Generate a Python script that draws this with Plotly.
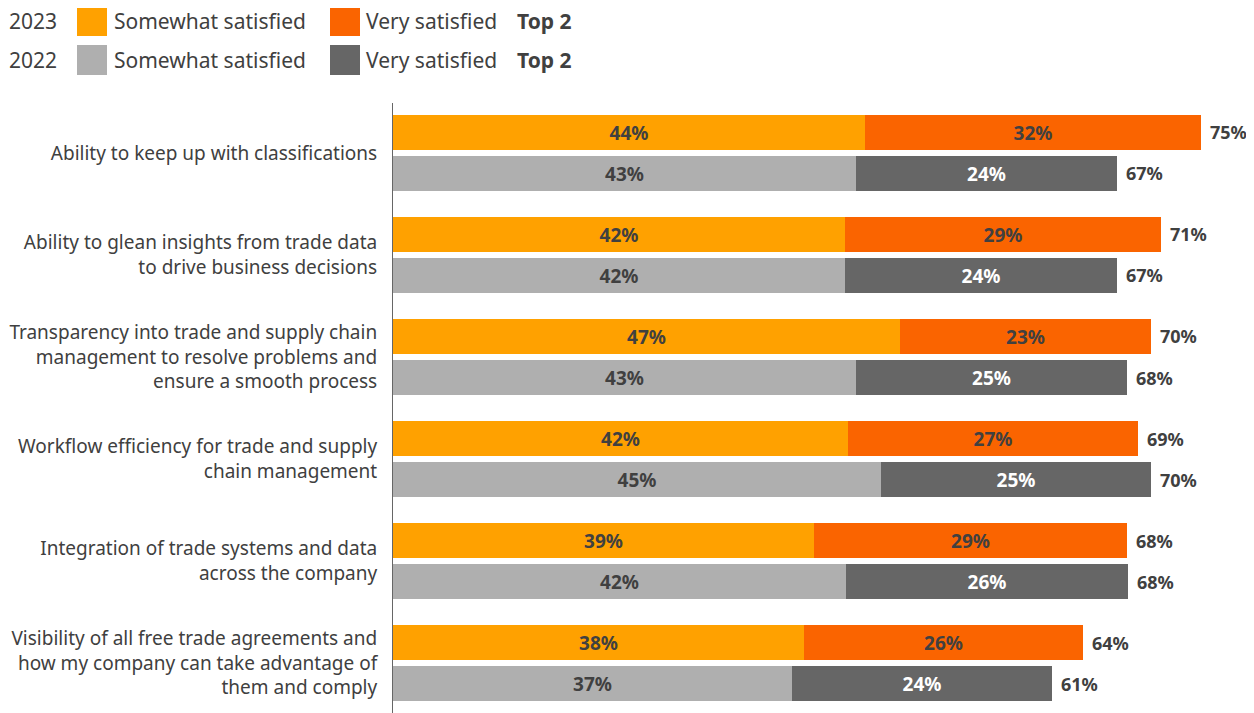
import plotly.graph_objects as go

categories = [
    "Ability to keep up with classifications",
    "Ability to glean insights from trade data<br>to drive business decisions",
    "Transparency into trade and supply chain<br>management to resolve problems and<br>ensure a smooth process",
    "Workflow efficiency for trade and supply<br>chain management",
    "Integration of trade systems and data<br>across the company",
    "Visibility of all free trade agreements and<br>how my company can take advantage of<br>them and comply",
]
# Values (labels are the published rounded figures)
some_2023 = [44.0, 42.2, 47.3, 42.4, 39.3, 38.3]
very_2023 = [31.4, 29.4, 23.4, 27.1, 29.2, 26.1]
some_2022 = [43.2, 42.2, 43.2, 45.5, 42.3, 37.2]
very_2022 = [24.3, 25.3, 25.3, 25.2, 26.3, 24.3]
some_2023_lbl = ["44%", "42%", "47%", "42%", "39%", "38%"]
very_2023_lbl = ["32%", "29%", "23%", "27%", "29%", "26%"]
some_2022_lbl = ["43%", "42%", "43%", "45%", "42%", "37%"]
very_2022_lbl = ["24%", "24%", "25%", "25%", "26%", "24%"]
top2_2023_lbl = ["75%", "71%", "70%", "69%", "68%", "64%"]
top2_2022_lbl = ["67%", "67%", "68%", "70%", "68%", "61%"]

C_SOME_23 = "#FFA100"
C_VERY_23 = "#FA6400"
C_SOME_22 = "#AFAFAF"
C_VERY_22 = "#666666"
TXT = "#404040"
FONT = "Noto Sans"

OFFS = 8  # page body margin
W, H = 1254 - OFFS, 713 - OFFS
L, T = 393 - OFFS, 103 - OFFS
PW, PH = W - L, H - T

idx = list(range(len(categories)))
OFF = 0.201
BW = 0.343
y23 = [i - OFF for i in idx]
y22 = [i + OFF for i in idx]

fig = go.Figure()

def bar(x, y, base, color, labels, tcolor):
    fig.add_trace(go.Bar(
        x=x, y=y, base=base, orientation="h", width=BW,
        marker=dict(color=color, line=dict(width=0)),
        text=labels, textposition="inside", insidetextanchor="middle",
        textangle=0,
        textfont=dict(family=FONT, size=19, color=tcolor, weight="bold"),
        showlegend=False, hoverinfo="skip",
    ))

bar(some_2023, y23, [0] * 6, C_SOME_23, some_2023_lbl, TXT)
bar(very_2023, y23, some_2023, C_VERY_23, very_2023_lbl, TXT)
bar(some_2022, y22, [0] * 6, C_SOME_22, some_2022_lbl, TXT)
bar(very_2022, y22, some_2022, C_VERY_22, very_2022_lbl, "white")

tot23 = [a + b for a, b in zip(some_2023, very_2023)]
tot22 = [a + b for a, b in zip(some_2022, very_2022)]
for xs, ys, ls in ((tot23, y23, top2_2023_lbl), (tot22, y22, top2_2022_lbl)):
    for x, y, t in zip(xs, ys, ls):
        fig.add_annotation(x=x, y=y, text=t, showarrow=False, xanchor="left",
                           yanchor="middle", xshift=8, borderpad=0,
                           font=dict(family=FONT, size=18, color=TXT, weight="bold"))

PX_PER = 10.72
fig.update_xaxes(range=[0, PW / PX_PER], visible=False, fixedrange=True)
fig.update_yaxes(
    range=[5.49, -0.49], tickvals=idx, ticktext=categories,
    showline=True, linecolor="#666666", linewidth=1,
    ticks="outside", ticklen=11, tickcolor="rgba(0,0,0,0)",
    tickfont=dict(family=FONT, size=19, color=TXT),
    showgrid=False, zeroline=False,
)

def px(x):
    return (x - OFFS - L) / PW

def py(y):
    return (H - (y - OFFS)) / PH

# Custom legend (page pixel positions)
rows = [("2023", C_SOME_23, C_VERY_23, 21), ("2022", C_SOME_22, C_VERY_22, 60)]
for year, c1, c2, yc in rows:
    fig.add_annotation(x=px(8), y=py(yc), xref="paper", yref="paper", text=year,
                       showarrow=False, xanchor="left", yanchor="middle", borderpad=0,
                       font=dict(family=FONT, size=21, color=TXT))
    for x0, c in ((77, c1), (330, c2)):
        fig.add_shape(type="rect", xref="paper", yref="paper",
                      x0=px(x0), x1=px(x0 + 30), y0=py(yc - 15), y1=py(yc + 15),
                      fillcolor=c, line=dict(width=0))
    for x0, t, w in ((113, "Somewhat satisfied", "normal"), (365, "Very satisfied", "normal"),
                     (516, "Top 2", "bold")):
        fig.add_annotation(x=px(x0), y=py(yc), xref="paper", yref="paper", text=t,
                           showarrow=False, xanchor="left", yanchor="middle", borderpad=0,
                           font=dict(family=FONT, size=21, color=TXT, weight=w))

fig.update_layout(
    width=W, height=H, barmode="overlay", bargap=0,
    margin=dict(l=L, r=0, t=T, b=0, autoexpand=False),
    plot_bgcolor="white", paper_bgcolor="white",
    font=dict(family=FONT, color=TXT),
    uniformtext=dict(mode=False),
)

fig.write_html("out.html")
